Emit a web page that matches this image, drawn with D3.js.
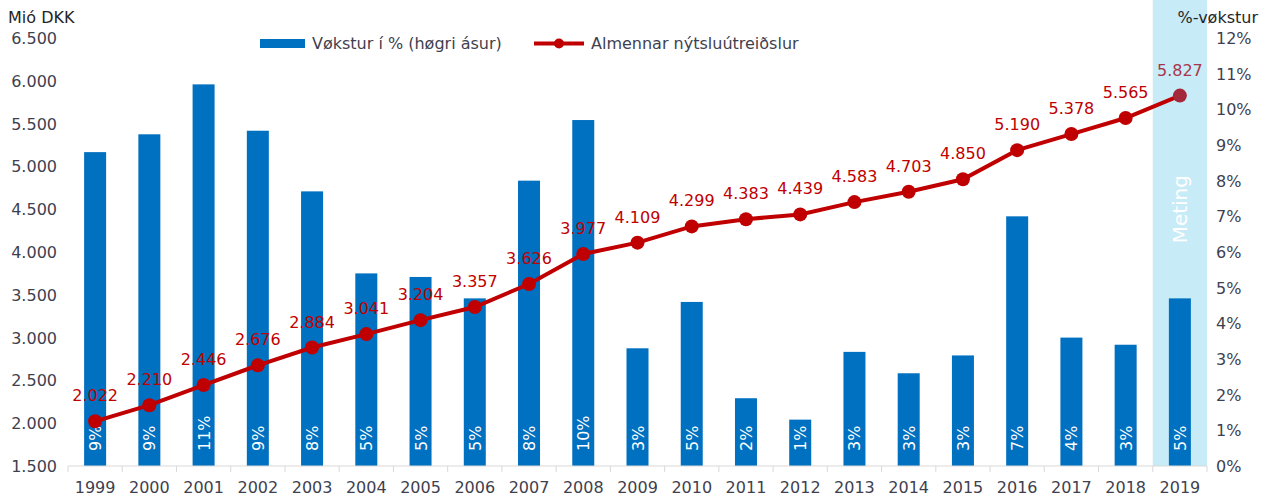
<!DOCTYPE html>
<html>
<head>
<meta charset="utf-8">
<script src="https://cdn.jsdelivr.net/npm/d3@7"></script>
<style>
body { margin: 0; background: #fff; }
svg text { font-family: "DejaVu Sans", Verdana, sans-serif; }
</style>
</head>
<body>
<div id="chart-container"></div>
<script>
var years = ["1999","2000","2001","2002","2003","2004","2005","2006","2007","2008","2009","2010","2011","2012","2013","2014","2015","2016","2017","2018","2019"];
var spending = [2022,2210,2446,2676,2884,3041,3204,3357,3626,3977,4109,4299,4383,4439,4583,4703,4850,5190,5378,5565,5827];
var growth = [8.8,9.3,10.7,9.4,7.7,5.4,5.3,4.7,8.0,9.7,3.3,4.6,1.9,1.3,3.2,2.6,3.1,7.0,3.6,3.4,4.7];
var growthLabels = ["9%","9%","11%","9%","8%","5%","5%","5%","8%","10%","3%","5%","2%","1%","3%","3%","3%","7%","4%","3%","5%"];
var leftTicks = [1500,2000,2500,3000,3500,4000,4500,5000,5500,6000,6500];
var rightTicks = [0,1,2,3,4,5,6,7,8,9,10,11,12];
var forecastYear = "2019";

var totalWidth = 1272;
var totalHeight = 497;
var margin = {top: 38, right: 65, bottom: 31, left: 68};
var width = totalWidth - margin.left - margin.right;
var height = totalHeight - margin.top - margin.bottom;

var blue = "#0070c0";
var red = "#c00000";
var axisText = "#3f3f4f";

var svg = d3.select("#chart-container")
    .append("svg")
    .attr("width", totalWidth)
    .attr("height", totalHeight);

var chart = svg.append("g")
    .attr("transform", "translate(" + margin.left + "," + margin.top + ")");

var x = d3.scaleBand().domain(years).range([0, width]);
var yLeft = d3.scaleLinear().domain([1500, 6500]).range([height, 0]);
var yRight = d3.scaleLinear().domain([0, 12]).range([height, 0]);

//forecast band behind the last year
chart.append("rect")
    .attr("x", x(forecastYear))
    .attr("y", -margin.top)
    .attr("width", x.bandwidth())
    .attr("height", height + margin.top)
    .style("fill", "#c8ebf8");

chart.append("text")
    .attr("transform", "translate(" + (x(forecastYear) + x.bandwidth() / 2 + 7) + "," + yRight(7.2) + ") rotate(-90)")
    .attr("text-anchor", "middle")
    .style("fill", "#fff")
    .style("font-size", "20px")
    .text("Meting");

//growth bars on the right axis
var barW = 22;
chart.selectAll(".bar")
    .data(years)
    .enter()
    .append("rect")
    .attr("class", "bar")
    .attr("x", function(d) { return x(d) + x.bandwidth() / 2 - barW / 2; })
    .attr("y", function(d, i) { return yRight(growth[i]); })
    .attr("width", barW)
    .attr("height", function(d, i) { return height - yRight(growth[i]); })
    .style("fill", blue);

chart.selectAll(".bar-label")
    .data(years)
    .enter()
    .append("text")
    .attr("class", "bar-label")
    .attr("transform", function(d) { return "translate(" + (x(d) + x.bandwidth() / 2 + 6) + "," + (height - 15) + ") rotate(-90)"; })
    .style("fill", "#fff")
    .style("font-size", "16px")
    .text(function(d, i) { return growthLabels[i]; });

//x axis
var xAxis = chart.append("g")
    .attr("transform", "translate(0," + height + ")");
xAxis.append("line")
    .attr("x1", 0).attr("x2", width)
    .style("stroke", "#d9d9d9");
xAxis.selectAll(".tick-mark")
    .data(years.concat(["end"]))
    .enter()
    .append("line")
    .attr("x1", function(d, i) { return i * x.bandwidth(); })
    .attr("x2", function(d, i) { return i * x.bandwidth(); })
    .attr("y1", 0).attr("y2", 6)
    .style("stroke", "#d9d9d9");
xAxis.selectAll(".year")
    .data(years)
    .enter()
    .append("text")
    .attr("x", function(d) { return x(d) + x.bandwidth() / 2; })
    .attr("y", 27)
    .attr("text-anchor", "middle")
    .style("fill", axisText)
    .style("font-size", "16px")
    .text(function(d) { return d; });

//left and right tick labels
var fmt = d3.format(",");
chart.selectAll(".left-tick")
    .data(leftTicks)
    .enter()
    .append("text")
    .attr("x", -11)
    .attr("y", function(d) { return yLeft(d) + 6; })
    .attr("text-anchor", "end")
    .style("fill", axisText)
    .style("font-size", "16px")
    .text(function(d) { return fmt(d).replace(",", "."); });

chart.selectAll(".right-tick")
    .data(rightTicks)
    .enter()
    .append("text")
    .attr("x", width + 9)
    .attr("y", function(d) { return yRight(d) + 6; })
    .style("fill", axisText)
    .style("font-size", "16px")
    .text(function(d) { return d + "%"; });

svg.append("text")
    .attr("x", 8).attr("y", 23)
    .style("fill", "#262626")
    .style("font-size", "16px")
    .text("Mió DKK");

svg.append("text")
    .attr("x", 1258).attr("y", 23)
    .attr("text-anchor", "end")
    .style("fill", "#262626")
    .style("font-size", "16px")
    .text("%-vøkstur");

//spending line with markers and labels
var line = d3.line()
    .x(function(d, i) { return x(years[i]) + x.bandwidth() / 2; })
    .y(function(d) { return yLeft(d); });

chart.append("path")
    .datum(spending)
    .attr("d", line)
    .style("fill", "none")
    .style("stroke", red)
    .style("stroke-width", 4);

chart.selectAll(".dot")
    .data(spending)
    .enter()
    .append("circle")
    .attr("cx", function(d, i) { return x(years[i]) + x.bandwidth() / 2; })
    .attr("cy", function(d) { return yLeft(d); })
    .attr("r", 7)
    .style("fill", function(d, i) { return years[i] === forecastYear ? "#a3283a" : red; });

chart.selectAll(".dot-label")
    .data(spending)
    .enter()
    .append("text")
    .attr("x", function(d, i) { return x(years[i]) + x.bandwidth() / 2; })
    .attr("y", function(d) { return yLeft(d) - 20; })
    .attr("text-anchor", "middle")
    .style("fill", function(d, i) { return years[i] === forecastYear ? "#a8364a" : red; })
    .style("font-size", "16px")
    .text(function(d) { return fmt(d).replace(",", "."); });

//legend
var legend = svg.append("g");
legend.append("rect")
    .attr("x", 260).attr("y", 39)
    .attr("width", 45).attr("height", 9)
    .style("fill", blue);
legend.append("text")
    .attr("x", 312).attr("y", 49)
    .style("fill", axisText)
    .style("font-size", "16px")
    .text("Vøkstur í % (høgri ásur)");
legend.append("line")
    .attr("x1", 534).attr("x2", 584)
    .attr("y1", 43.5).attr("y2", 43.5)
    .style("stroke", red)
    .style("stroke-width", 4);
legend.append("circle")
    .attr("cx", 559).attr("cy", 43.5)
    .attr("r", 5)
    .style("fill", red);
legend.append("text")
    .attr("x", 591).attr("y", 49)
    .style("fill", axisText)
    .style("font-size", "16px")
    .text("Almennar nýtsluútreiðslur");
</script>
</body>
</html>
